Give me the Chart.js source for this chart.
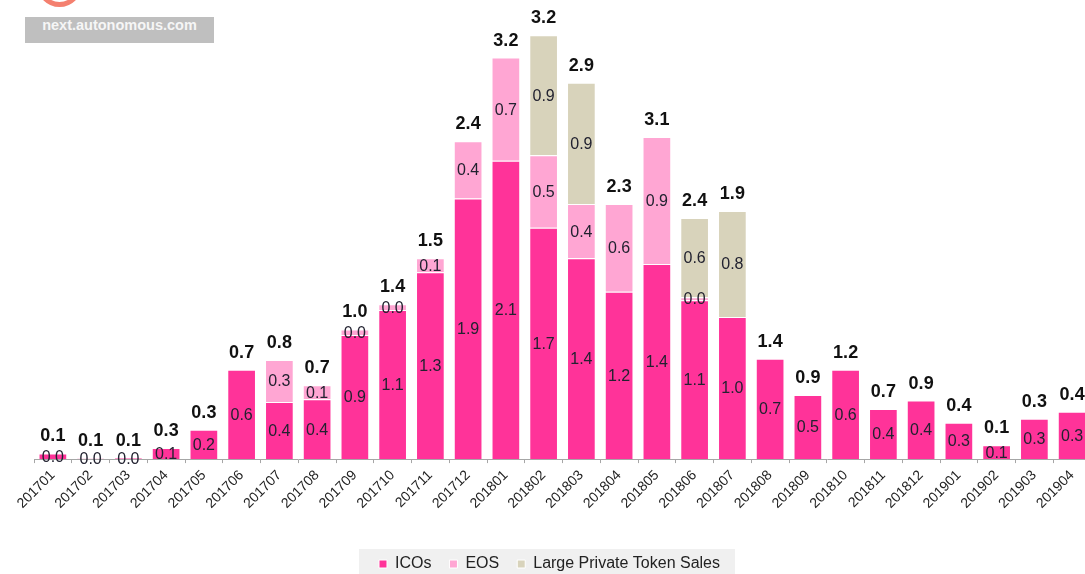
<!DOCTYPE html>
<html>
<head>
<meta charset="utf-8">
<script src="https://cdn.jsdelivr.net/npm/chart.js@4.4.1/dist/chart.umd.min.js"></script>
<style>
  html, body { margin: 0; padding: 0; background: #fff; overflow: hidden; }
  #wrap { position: relative; width: 1091px; height: 582px; }
  #logoRing { position: absolute; left: 37px; top: -38px; width: 35px; height: 35px;
    border: 5px solid #f4806f; border-radius: 50%; }
  #logoTag { position: absolute; left: 25px; top: 17px; width: 189px; height: 26px;
    background: #bfbfbf; color: #f6f6f6; text-align: center; line-height: 26px;
    font: bold 14.5px "Liberation Sans", Arial, sans-serif; }
</style>
</head>
<body>
<div id="wrap">
  <canvas id="chart" width="1091" height="582"></canvas>
  <div id="logoRing"></div>
  <div id="logoTag">next.autonomous.com</div>
</div>
<script>
// months on the x axis
const months = ["201701","201702","201703","201704","201705","201706","201707","201708",
  "201709","201710","201711","201712","201801","201802","201803","201804","201805","201806",
  "201807","201808","201809","201810","201811","201812","201901","201902","201903","201904"];

// USD bn
const icos = [0.04, 0.004, 0.01, 0.08, 0.21, 0.64, 0.41, 0.43, 0.89, 1.07, 1.34, 1.87, 2.14, 1.66,
  1.44, 1.20, 1.40, 1.14, 1.02, 0.72, 0.46, 0.64, 0.36, 0.42, 0.26, 0.10, 0.29, 0.34];
const eos = [null, null, null, null, null, null, 0.30, 0.10, 0.04, 0.04, 0.10, 0.41, 0.74, 0.52,
  0.39, 0.63, 0.91, 0.02, null, null, null, null, null, null, null, null, null, null];
const largeSales = [null, null, null, null, null, null, null, null, null, null, null, null, null, 0.86,
  0.87, null, null, 0.57, 0.76, null, null, null, null, null, null, null, null, null];

// bold labels printed above each column
const totals = ["0.1","0.1","0.1","0.3","0.3","0.7","0.8","0.7","1.0","1.4","1.5","2.4","3.2","3.2",
  "2.9","2.3","3.1","2.4","1.9","1.4","0.9","1.2","0.7","0.9","0.4","0.1","0.3","0.4"];

const FONT = '"Liberation Sans", Arial, sans-serif';

// legend sits a little left of the plot centre in the original
const legendShift = {
  id: "legendShift",
  afterLayout(chart) {
    chart.legend.left -= 13;
    chart.legend.right -= 13;
  }
};

// grey band behind the legend
const legendBand = {
  id: "legendBand",
  beforeDraw(chart) {
    const boxes = chart.legend && chart.legend.legendHitBoxes;
    if (!boxes || !boxes.length) return;
    const first = boxes[0], last = boxes[boxes.length - 1];
    const midY = first.top + first.height / 2;
    const c = chart.ctx;
    c.save();
    c.fillStyle = "#f0f0f0";
    c.fillRect(first.left - 20, midY - 15, last.left + last.width + 15 - (first.left - 20), chart.height - (midY - 15));
    c.restore();
  }
};

// value inside each segment + total above the column
const barLabels = {
  id: "barLabels",
  afterDatasetsDraw(chart) {
    const c = chart.ctx;
    c.save();
    c.textAlign = "center";
    c.textBaseline = "middle";
    c.font = "16px " + FONT;
    c.fillStyle = "#222230";
    const tops = [];
    chart.data.datasets.forEach((ds, i) => {
      const meta = chart.getDatasetMeta(i);
      meta.data.forEach((bar, j) => {
        const v = ds.data[j];
        if (v === null || v === undefined) return;
        c.fillText(v.toFixed(1), bar.x, (bar.y + bar.base) / 2 + 1);
        if (tops[j] === undefined || bar.y < tops[j]) tops[j] = bar.y;
      });
    });
    c.font = "bold 18px " + FONT;
    c.fillStyle = "#111";
    c.textBaseline = "bottom";
    const xs = chart.getDatasetMeta(0).data;
    totals.forEach((t, j) => {
      c.fillText(t, xs[j].x, tops[j] - 8);
    });
    c.restore();
  }
};

new Chart(document.getElementById("chart"), {
  type: "bar",
  data: {
    labels: months,
    datasets: [
      { label: "ICOs", data: icos, backgroundColor: "#ff3399" },
      { label: "EOS", data: eos, backgroundColor: "#ffa6d3" },
      { label: "Large Private Token Sales", data: largeSales, backgroundColor: "#d8d3bb" }
    ]
  },
  options: {
    responsive: false,
    animation: false,
    layout: { padding: { top: 6, left: 34, right: 0, bottom: 0 } },
    datasets: {
      bar: { barPercentage: 0.76, categoryPercentage: 1, borderColor: "#ffffff", borderWidth: 1 }
    },
    plugins: {
      tooltip: { enabled: false },
      legend: {
        position: "bottom",
        labels: {
          boxWidth: 8, boxHeight: 8, padding: 18, color: "#222",
          font: { size: 16, family: FONT }
        }
      }
    },
    scales: {
      x: {
        stacked: true,
        afterFit(scale) { scale.height += 22; },
        grid: { drawOnChartArea: false, tickLength: 4, color: "#a6a6a6", offset: true },
        border: { color: "#a6a6a6" },
        ticks: { minRotation: 45, maxRotation: 45, color: "#222", padding: 4,
          font: { size: 14, family: FONT } }
      },
      y: { stacked: true, display: false, min: 0, max: 3.25 }
    }
  },
  plugins: [legendShift, legendBand, barLabels]
});
</script>
</body>
</html>
